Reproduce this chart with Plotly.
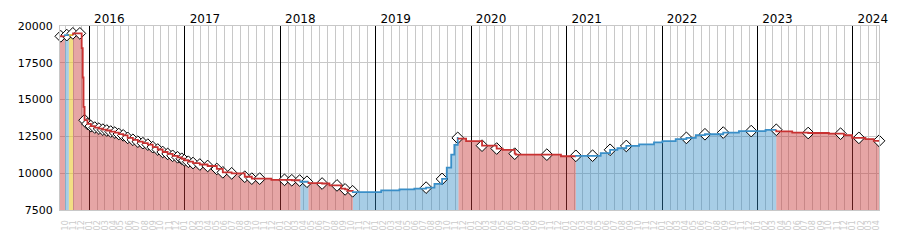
import plotly.graph_objects as go

# ---- data ----
line_dates = [
    "2015-09-01", "2015-09-30", "2015-10-15", "2015-10-31", "2015-12-03", "2015-12-07",
    "2015-12-10", "2015-12-14", "2015-12-25", "2016-01-07", "2016-01-22", "2016-02-07",
    "2016-02-22", "2016-03-08", "2016-03-23", "2016-04-08", "2016-04-23", "2016-05-10",
    "2016-05-27", "2016-06-16", "2016-07-05", "2016-07-24", "2016-08-12", "2016-08-31",
    "2016-09-19", "2016-10-08", "2016-10-27", "2016-11-15", "2016-12-04", "2016-12-20",
    "2016-12-30", "2017-01-14", "2017-02-01", "2017-02-27", "2017-03-29", "2017-05-03",
    "2017-05-26", "2017-06-29", "2017-08-18", "2017-09-14", "2017-11-28", "2018-02-14",
    "2018-03-16", "2018-03-19", "2018-04-19", "2018-06-10", "2018-07-08", "2018-08-22",
    "2018-09-06", "2018-09-15", "2018-10-05", "2018-10-06", "2019-01-22", "2019-04-02",
    "2019-05-29", "2019-07-13", "2019-08-14", "2019-09-12", "2019-09-30", "2019-10-17",
    "2019-10-29", "2019-11-11", "2019-11-14", "2019-12-13", "2020-02-12", "2020-04-08",
    "2020-05-01", "2020-06-16", "2020-06-20", "2020-12-10", "2021-02-05", "2021-05-11",
    "2021-06-16", "2021-07-14", "2021-08-17", "2021-10-05", "2021-12-01", "2022-01-02",
    "2022-02-22", "2022-04-04", "2022-05-10", "2022-06-14", "2022-08-23", "2022-10-22",
    "2023-02-01", "2023-03-14", "2023-05-14", "2023-07-14", "2023-10-01", "2023-11-28",
    "2023-12-29", "2024-02-18", "2024-03-21",
]
line_prices = [
    19300, 19380, 19380, 19500, 18500, 16500,
    14500, 13600, 13350, 13200, 13100, 13030,
    12960, 12900, 12830, 12760, 12660, 12570,
    12400, 12270, 12140, 12040, 11940, 11770,
    11610, 11440, 11310, 11180, 11080, 10980,
    10880, 10780, 10690, 10590, 10490, 10290,
    10060, 9990, 9760, 9630, 9550, 9520,
    9500, 9420, 9330, 9300, 9170, 8950,
    8900, 8800, 8770, 8720, 8840, 8900,
    8950, 9020, 9280, 9610, 10380, 11260,
    11920, 12400, 12350, 12180, 11870, 11675,
    11590, 11325, 11260, 11150, 11180, 11365,
    11590, 11695, 11850, 11960, 12090, 12180,
    12315, 12400, 12580, 12645, 12760, 12860,
    12950, 12840, 12750, 12730, 12685, 12580,
    12400, 12315, 12200,
]
# d = falling (red), u = rising (blue), f = flat (yellow)
line_trend = (
    ["d", "u", "f"] + ["d"] * 40 + ["u"] + ["d"] * 7 + ["u"] * 11 + ["d"] * 8
    + ["u"] * 15 + ["d"] * 8
)

marker_dates = [
    "2015-09-14", "2015-10-07", "2015-10-30", "2015-11-26", "2015-12-14", "2015-12-25",
    "2016-01-07", "2016-01-22", "2016-02-07", "2016-02-22", "2016-03-08", "2016-03-23",
    "2016-04-08", "2016-04-23", "2016-05-10", "2016-05-27", "2016-06-16", "2016-07-05",
    "2016-07-24", "2016-08-12", "2016-08-31", "2016-09-19", "2016-10-08", "2016-10-27",
    "2016-11-15", "2016-12-04", "2016-12-20", "2016-12-30", "2017-01-14", "2017-02-01",
    "2017-02-27", "2017-03-29", "2017-05-03", "2017-05-26", "2017-06-29", "2017-08-18",
    "2017-09-14", "2017-10-14", "2018-01-17", "2018-02-14", "2018-03-16", "2018-04-13",
    "2018-06-10", "2018-08-06", "2018-09-06", "2018-10-05", "2019-07-13", "2019-09-12",
    "2019-11-11", "2020-02-12", "2020-04-08", "2020-06-16", "2020-10-17", "2021-02-05",
    "2021-04-10", "2021-06-16", "2021-08-17", "2022-04-04", "2022-06-14", "2022-08-23",
    "2022-12-08", "2023-03-14", "2023-07-14", "2023-11-15", "2024-01-24", "2024-04-10",
]
marker_prices = [
    19300, 19380, 19500, 19500, 13600, 13350,
    13200, 13100, 13030, 12960, 12900, 12830,
    12760, 12660, 12570, 12400, 12270, 12140,
    12040, 11940, 11770, 11610, 11440, 11310,
    11180, 11080, 10980, 10880, 10780, 10690,
    10590, 10490, 10290, 10060, 9990, 9760,
    9630, 9630, 9550, 9520, 9500, 9420,
    9300, 9170, 8900, 8770, 9020, 9610,
    12400, 11870, 11675, 11325, 11260, 11180,
    11190, 11590, 11850, 12400, 12645, 12760,
    12860, 12950, 12730, 12685, 12400, 12200,
]

x_start, x_end = "2015-09-11", "2024-04-10"
y_ticks = [7500, 10000, 12500, 15000, 17500, 20000]

# ---- styles ----
fill_colors = {"d": "rgba(200,55,55,0.45)", "u": "rgba(45,135,195,0.42)", "f": "rgba(235,200,50,0.6)"}
line_colors = {"d": "#c83232", "u": "#3a8fc8", "f": "#e0b830"}
font_family = "DejaVu Sans"

# group consecutive points with the same trend
groups = []
start = 0
for i in range(1, len(line_dates) + 1):
    if i == len(line_dates) or line_trend[i] != line_trend[start]:
        groups.append((start, i - 1))
        start = i

fig = go.Figure()

for a, b in groups:
    t = line_trend[a]
    nxt = line_dates[b + 1] if b + 1 < len(line_dates) else x_end
    xs = line_dates[a:b + 1] + [nxt]
    ys = line_prices[a:b + 1] + [line_prices[b]]
    fig.add_trace(go.Scatter(
        x=xs, y=ys, mode="lines", line=dict(width=0, shape="hv"),
        fill="tozeroy", fillcolor=fill_colors[t], hoverinfo="skip", showlegend=False,
    ))

fig.add_trace(go.Scatter(
    x=marker_dates, y=marker_prices, mode="markers",
    marker=dict(symbol="diamond", size=9, color="white", line=dict(color="black", width=1)),
    cliponaxis=False, showlegend=False,
))

for a, b in groups:
    t = line_trend[a]
    nxt = line_dates[b + 1] if b + 1 < len(line_dates) else x_end
    xs = line_dates[a:b + 1] + [nxt]
    ys = line_prices[a:b + 1] + [line_prices[b]]
    if a > 0:
        xs = [line_dates[a]] + xs
        ys = [line_prices[a - 1]] + ys
    fig.add_trace(go.Scatter(
        x=xs, y=ys, mode="lines", line=dict(width=1.8, shape="hv", color=line_colors[t]),
        xaxis="x2", hoverinfo="skip", showlegend=False,
    ))

fig.update_layout(
    width=900, height=250,
    margin=dict(l=60, r=20, t=20, b=40),
    paper_bgcolor="white", plot_bgcolor="white",
    font=dict(family=font_family, color="black"),
    xaxis=dict(
        type="date", range=[x_start, x_end],
        tick0="2015-01-01", dtick="M1", tickformat="%m", tickangle=-90,
        tickfont=dict(size=8, color="#cacaca"), ticks="", ticklabelstandoff=6,
        showgrid=False, zeroline=False,
        showline=True, linecolor="#c8c8c8", linewidth=1, mirror=True,
    ),
    xaxis2=dict(
        type="date", range=[x_start, x_end], overlaying="x", side="top",
        tick0="2016-01-01", dtick="M12", tickformat="%Y",
        tickfont=dict(size=12, color="black"), ticks="", ticklabelshift=20,
        showgrid=True, gridcolor="black", gridwidth=1,
        minor=dict(dtick="M1", tick0="2016-01-01", showgrid=True, gridcolor="#c8c8c8", gridwidth=1),
        zeroline=False, showline=False,
    ),
    yaxis=dict(
        range=[7500, 20000], tickvals=y_ticks, tickformat="d",
        tickfont=dict(size=11, color="black"), ticks="", ticklabelstandoff=4,
        showgrid=True, gridcolor="#c8c8c8", gridwidth=1, zeroline=False,
        showline=True, linecolor="#c8c8c8", linewidth=1, mirror=True,
    ),
)

fig.write_html("out.html")
